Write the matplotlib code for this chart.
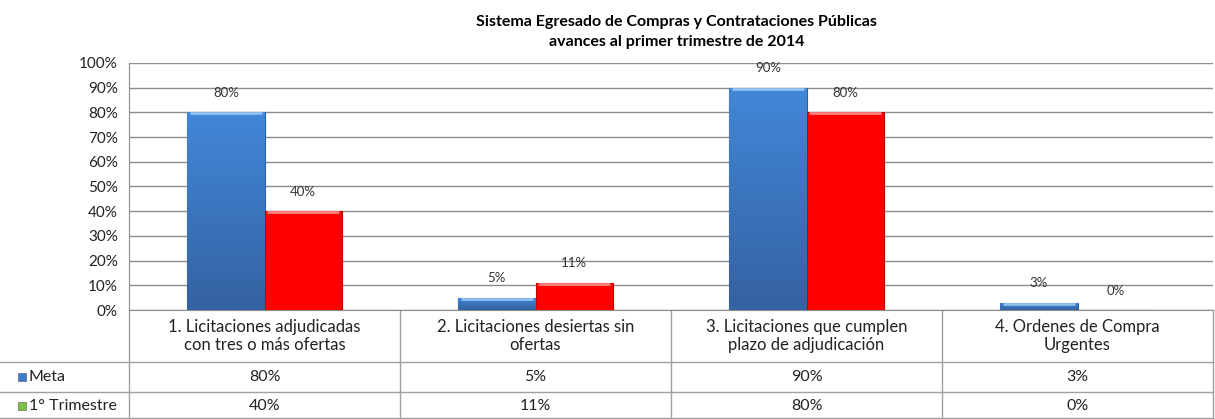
import numpy as np
import matplotlib
matplotlib.use('Agg')
from matplotlib import pyplot as plt
from matplotlib.lines import Line2D
from matplotlib.colors import LinearSegmentedColormap

# ---------------------------------------------------------------- DATOS
categorias = ['1. Licitaciones adjudicadas\ncon tres o más ofertas',
              '2. Licitaciones desiertas sin\nofertas',
              '3. Licitaciones que cumplen\nplazo de adjudicación',
              '4. Ordenes de Compra\nUrgentes']
meta = [0.80, 0.05, 0.90, 0.03]
trimestre = [0.40, 0.11, 0.80, 0.00]
series = ['Meta', '1° Trimestre']
titulo = 'Sistema Egresado de Compras y Contrataciones Públicas\navances al primer trimestre de 2014'

plt.rcParams['font.family'] = ['Lato', 'DejaVu Sans']

# ---------------------------------------------------------------- FIGURA
W, H = 1215, 419
fig = plt.figure(figsize=(W / 100, H / 100), dpi=100)
x0, x1, y0, y1 = 129, 1213, 63, 310
ax = fig.add_axes([x0 / W, 1 - y1 / H, (x1 - x0) / W, (y1 - y0) / H])

x = np.arange(len(categorias))
ancho = 0.285
b1 = ax.bar(x - ancho / 2, meta, ancho, color='#3C7ACB', edgecolor='#2C5F9E', linewidth=0.8, zorder=3)
b2 = ax.bar(x + ancho / 2, trimestre, ancho, color='#FF0000', edgecolor='#C80000', linewidth=0.8, zorder=3)

# degradado en las barras azules (claro arriba, oscuro abajo)
cm_azul = LinearSegmentedColormap.from_list('azul', ['#3462A2', '#4287D8'])
grad = np.linspace(0, 1, 100).reshape(-1, 1)
for b in b1:
    if b.get_height() <= 0:
        continue
    im = ax.imshow(grad, cmap=cm_azul, origin='lower', aspect='auto', zorder=3.5,
                   extent=[b.get_x(), b.get_x() + b.get_width(), 0, b.get_height()])
    im.set_clip_path(b)
# brillo superior (bisel)
for barras, col in ((b1, '#8FC0F0'), (b2, '#FF8080')):
    for b in barras:
        if b.get_height() <= 0:
            continue
        ax.plot([b.get_x() + 0.01, b.get_x() + b.get_width() - 0.01], [b.get_height() - 0.004] * 2,
                color=col, lw=2, zorder=4, solid_capstyle='butt')

for barras, vals in ((b1, meta), (b2, trimestre)):
    for b, v in zip(barras, vals):
        ax.annotate('%d%%' % round(v * 100), (b.get_x() + b.get_width() / 2, v),
                    xytext=(0, 14), textcoords='offset points', ha='center', va='center',
                    fontsize=9.5, color='#333333', zorder=5)

ax.set_xlim(-0.5, len(categorias) - 0.5)
ax.set_ylim(0, 1)
ax.set_yticks(np.arange(0, 1.01, 0.1))
ax.set_yticklabels(['%d%%' % round(t * 100) for t in np.arange(0, 1.01, 0.1)], fontsize=11, color='#222222')
ax.set_xticks([])
ax.tick_params(axis='y', length=0, pad=8)
ax.grid(axis='y', color='#8C8C8C', linewidth=1, zorder=0)
for s in ['top', 'right']:
    ax.spines[s].set_visible(False)
ax.spines['left'].set_color('#8C8C8C')
ax.spines['bottom'].set_color('#8C8C8C')

fig.text(0.557, 1 - 32 / H, titulo, ha='center', va='center', fontsize=11.5,
         fontweight='bold', linespacing=1.6)

# ---------------------------------------------------------------- TABLA
def ya(ypix):
    return (y1 - ypix) / (y1 - y0)

def xa(xpix):
    return (xpix - x0) / (x1 - x0)

gris = '#A0A0A0'
for yy in (362, 392, 418):
    ax.add_line(Line2D([xa(0), 1], [ya(yy), ya(yy)], transform=ax.transAxes,
                       color=gris, lw=1, clip_on=False))
for xx in (0, 0.25, 0.5, 0.75, 1.0):
    ax.add_line(Line2D([xx, xx], [0, ya(418)], transform=ax.transAxes,
                       color=gris, lw=1, clip_on=False))

for i, c in enumerate(categorias):
    ax.text((i + 0.5) / len(categorias), ya(336), c, transform=ax.transAxes, ha='center',
            va='center', fontsize=12, color='#222222', linespacing=1.2)
    ax.text((i + 0.5) / len(categorias), ya(377), '%d%%' % round(meta[i] * 100),
            transform=ax.transAxes, ha='center', va='center', fontsize=11.5, color='#222222')
    ax.text((i + 0.5) / len(categorias), ya(406), '%d%%' % round(trimestre[i] * 100),
            transform=ax.transAxes, ha='center', va='center', fontsize=11.5, color='#222222')

for nombre, yy, col in ((series[0], 377, '#3C7ACB'), (series[1], 406, '#7CC243')):
    ax.plot([xa(22)], [ya(yy)], marker='s', markersize=6, color=col, markeredgecolor='#555555',
            markeredgewidth=0.4, transform=ax.transAxes, clip_on=False)
    ax.text(xa(29), ya(yy), nombre, transform=ax.transAxes, ha='left', va='center',
            fontsize=11.5, color='#222222')

fig.savefig('out.png', dpi=100)
